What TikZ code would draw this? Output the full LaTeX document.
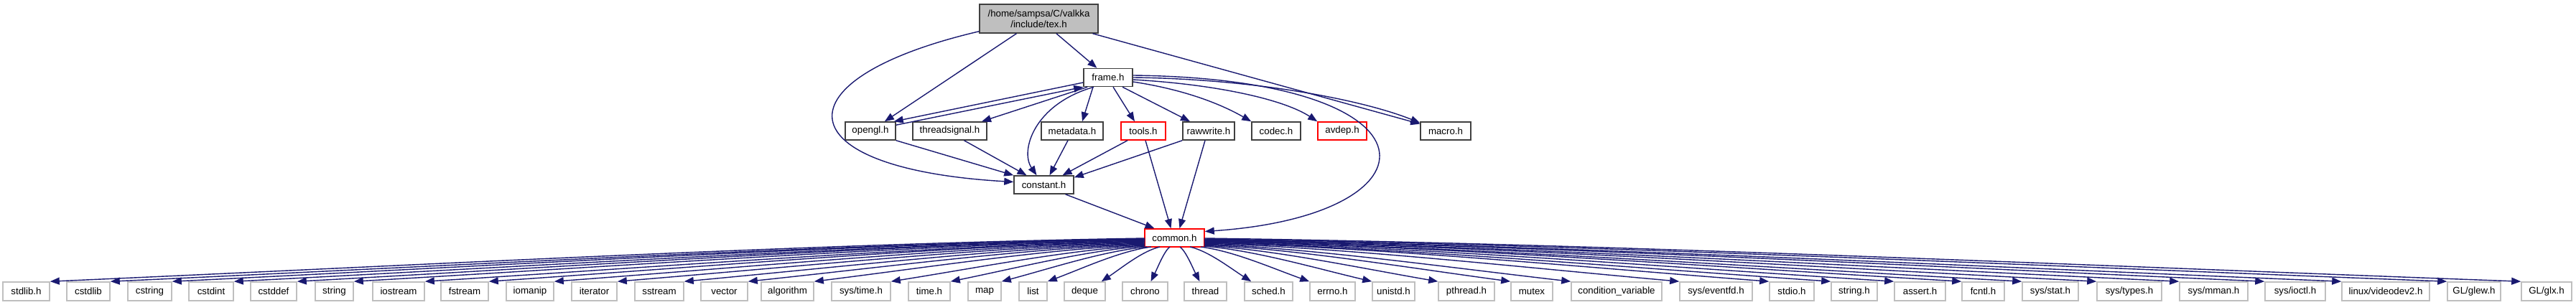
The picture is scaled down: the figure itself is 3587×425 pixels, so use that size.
\documentclass[tikz,border=0pt]{standalone}
\usepackage{fontspec}
\setmainfont{Liberation Sans}
\usetikzlibrary{arrows.meta}
\definecolor{edgeblue}{RGB}{25,25,112}
\definecolor{leafgray}{RGB}{191,191,191}
\definecolor{docgray}{RGB}{64,64,64}
\tikzset{
  dep/.style={draw=edgeblue, line width=1.4pt, -{Triangle[length=13pt,width=10pt]}},
  box/.style={draw, rectangle, inner sep=0pt, minimum height=25pt, text=black, line width=1.5pt},
  doc/.style={box, draw=docgray},
  bad/.style={box, draw=red},
  leaf/.style={box, draw=leafgray, minimum height=26pt, line width=1.6pt}
}
\begin{document}
\begin{tikzpicture}[x=1pt,y=-1pt, font=\fontsize{13.3}{15}\selectfont]
\useasboundingbox (0,0) rectangle (3587,425);

% upper nodes
\node[doc, fill=leafgray, minimum width=165pt, minimum height=40pt, align=center] (tex) at (1446.5,26) {/home/sampsa/C/valkka\\/include/tex.h};
\node[doc, minimum width=68pt] (frame) at (1543,108) {frame.h};
\node[doc, minimum width=70pt] (opengl) at (1212,182.5) {opengl.h};
\node[doc, minimum width=103pt] (threadsignal) at (1322.5,182.5) {threadsignal.h};
\node[doc, minimum width=86pt] (metadata) at (1493,182.5) {metadata.h};
\node[bad, minimum width=62pt] (tools) at (1592,182.5) {tools.h};
\node[doc, minimum width=72pt] (rawwrite) at (1683,182.5) {rawwrite.h};
\node[doc, minimum width=68pt] (codec) at (1777,182.5) {codec.h};
\node[bad, minimum width=68pt] (avdep) at (1869,182.5) {avdep.h};
\node[doc, minimum width=70pt] (macro) at (2013,182.5) {macro.h};
\node[doc, minimum width=83pt] (constant) at (1453.5,257.5) {constant.h};
\node[bad, minimum width=83pt] (common) at (1635.5,331.5) {common.h};

% bottom row
\node[leaf, minimum width=65pt] (stdlib) at (36.5,406) {stdlib.h};
\node[leaf, minimum width=60pt] (cstdlib) at (123,406) {cstdlib};
\node[leaf, minimum width=61pt] (cstring) at (208.5,406) {cstring};
\node[leaf, minimum width=62pt] (cstdint) at (294,406) {cstdint};
\node[leaf, minimum width=64pt] (cstddef) at (381,406) {cstddef};
\node[leaf, minimum width=53pt] (string) at (465.5,406) {string};
\node[leaf, minimum width=72pt] (iostream) at (555,406) {iostream};
\node[leaf, minimum width=66pt] (fstream) at (647,406) {fstream};
\node[leaf, minimum width=66pt] (iomanip) at (738,406) {iomanip};
\node[leaf, minimum width=63pt] (iterator) at (827.5,406) {iterator};
\node[leaf, minimum width=68pt] (sstream) at (918,406) {sstream};
\node[leaf, minimum width=65pt] (vector) at (1008.5,406) {vector};
\node[leaf, minimum width=73pt] (algorithm) at (1096.5,406) {algorithm};
\node[leaf, minimum width=82pt] (systime) at (1199,406) {sys/time.h};
\node[leaf, minimum width=58pt] (timeh) at (1294,406) {time.h};
\node[leaf, minimum width=46pt] (map) at (1371,406) {map};
\node[leaf, minimum width=39pt] (list) at (1438.5,406) {list};
\node[leaf, minimum width=57pt] (deque) at (1510.5,406) {deque};
\node[leaf, minimum width=63pt] (chrono) at (1594.5,406) {chrono};
\node[leaf, minimum width=59pt] (thread) at (1678.5,406) {thread};
\node[leaf, minimum width=67pt] (sched) at (1766.5,406) {sched.h};
\node[leaf, minimum width=63pt] (errno) at (1855.5,406) {errno.h};
\node[leaf, minimum width=59pt] (unistd) at (1940.5,406) {unistd.h};
\node[leaf, minimum width=78pt] (pthread) at (2042,406) {pthread.h};
\node[leaf, minimum width=58pt] (mutex) at (2133,406) {mutex};
\node[leaf, minimum width=126pt] (condvar) at (2251,406) {condition\_variable};
\node[leaf, minimum width=101pt] (eventfd) at (2389.5,406) {sys/eventfd.h};
\node[leaf, minimum width=62pt] (stdio) at (2495,406) {stdio.h};
\node[leaf, minimum width=64pt] (stringh) at (2582,406) {string.h};
\node[leaf, minimum width=71pt] (assert) at (2673.5,406) {assert.h};
\node[leaf, minimum width=59pt] (fcntl) at (2761.5,406) {fcntl.h};
\node[leaf, minimum width=78pt] (sysstat) at (2855,406) {sys/stat.h};
\node[leaf, minimum width=90pt] (systypes) at (2965,406) {sys/types.h};
\node[leaf, minimum width=95pt] (sysmman) at (3082.5,406) {sys/mman.h};
\node[leaf, minimum width=84pt] (sysioctl) at (3196,406) {sys/ioctl.h};
\node[leaf, minimum width=122pt] (videodev) at (3322,406) {linux/videodev2.h};
\node[leaf, minimum width=74pt] (glew) at (3445,406) {GL/glew.h};
\node[leaf, minimum width=70pt] (glx) at (3546,406) {GL/glx.h};

% edges from tex.h
\draw[dep] (tex) -- (frame);
\draw[dep] (tex) -- (opengl);
\draw[dep] (tex) -- (macro);
\draw[dep] ([yshift=3pt]tex.south west) .. controls (1080,110) and (1090,235) .. ([yshift=4pt]constant.west);

% edges around frame.h
\draw[dep] ([yshift=-7pt]frame.west) -- ([xshift=-3pt]opengl.north east);
\draw[dep] ([yshift=-5pt]opengl.north east) -- (frame.south west);
\draw[dep] ([xshift=6pt]frame.south west) -- ([xshift=44.5pt]threadsignal.north);
\draw[dep] ([xshift=-20pt]frame.south) .. controls (1440,145) and (1420,210) .. ([xshift=-10pt]constant.north);
\draw[dep] ([xshift=-21pt]frame.south) -- ([xshift=14pt]metadata.north);
\draw[dep] ([xshift=7pt]frame.south) -- ([xshift=-12pt]tools.north);
\draw[dep] ([xshift=20pt]frame.south) -- ([xshift=-26pt]rawwrite.north);
\draw[dep] ([yshift=-6pt]frame.east) .. controls (1650,125) and (1700,145) .. (codec.north west);
\draw[dep] ([yshift=-3pt]frame.east) .. controls (1700,118) and (1790,140) .. (avdep.north west);
\draw[dep] (frame.east) .. controls (1750,110) and (1900,140) .. ([yshift=-2pt]macro.north west);
\draw[dep] ([yshift=3pt]frame.east) .. controls (2020,110) and (2010,300) .. ([yshift=9pt]common.east);

% edges into constant.h / common.h
\draw[dep] (opengl.south east) -- (constant.north west);
\draw[dep] ([xshift=20pt]threadsignal.south) -- ([xshift=-24pt]constant.north);
\draw[dep] ([xshift=-6pt]metadata.south) -- ([xshift=8pt]constant.north);
\draw[dep] ([xshift=-22pt]tools.south) -- ([xshift=26pt]constant.north);
\draw[dep] (rawwrite.south west) -- ([yshift=-3pt]constant.north east);
\draw[dep] ([xshift=3pt]tools.south) -- ([xshift=-5pt]common.north);
\draw[dep] ([xshift=-5pt]rawwrite.south) -- ([xshift=7pt]common.north);
\draw[dep] ([xshift=30pt]constant.south) -- ([xshift=-28pt]common.north);

% edges from common.h
\foreach \t/\a/\ox/\sx/\sy/\ex in {
  stdlib/north east/0/1594/332/69,
  cstdlib/north east/0/1594/333/153,
  cstring/north east/0/1594/333/239,
  cstdint/north east/0/1594/334/325,
  cstddef/north east/0/1594/334/413,
  string/north east/0/1594/335/492,
  iostream/north east/0/1594/336/591,
  fstream/north east/0/1594/336/680,
  iomanip/north east/0/1594/337/771,
  iterator/north east/0/1594/338/859,
  sstream/north east/0/1594/339/952,
  vector/north east/0/1594/340/1041,
  algorithm/north east/0/1594/341/1133,
  systime/north east/0/1594/342/1240,
  timeh/north east/0/1594/343/1323,
  map/north east/0/1597/344/1394,
  list/north east/0/1603/344/1458,
  deque/north east/-6/1615/344/1533,
  chrono/north/8/1629/344/1602.5,
  thread/north/-8/1643/344/1670.5,
  sched/north west/10/1657/344/1743,
  errno/north west/0/1672/344/1824,
  unistd/north west/0/1677/343/1911,
  pthread/north west/0/1677/342/2003,
  mutex/north west/0/1677/341/2104,
  condvar/north west/0/1677/340/2188,
  eventfd/north west/0/1677/339/2339,
  stdio/north west/0/1677/338/2464,
  stringh/north west/0/1677/338/2550,
  assert/north west/0/1677/337/2638,
  fcntl/north west/0/1677/336/2732,
  sysstat/north west/0/1677/336/2816,
  systypes/north west/0/1677/335/2920,
  sysmman/north west/0/1677/335/3035,
  sysioctl/north west/0/1677/334/3154,
  videodev/north west/0/1677/334/3261,
  glew/north west/0/1677/333/3408,
  glx/north west/0/1677/332/3511}{
  \pgfmathsetmacro\cax{\sx+0.3*(\ex-\sx)}
  \pgfmathsetmacro\cay{\sy+0.12*(393-\sy)}
  \pgfmathsetmacro\cbx{\ex-0.35*(\ex-\sx)}
  \pgfmathsetmacro\cby{393-0.4*(393-\sy)}
  \pgfmathsetmacro\shx{\sx-1635.5}
  \pgfmathsetmacro\shy{\sy-331.5}
  \draw[dep] ([shift={(\shx,\shy)}]common.center) .. controls (\cax,\cay) and (\cbx,\cby) .. ([xshift=\ox pt]\t.\a);
}
\end{tikzpicture}
\end{document}
